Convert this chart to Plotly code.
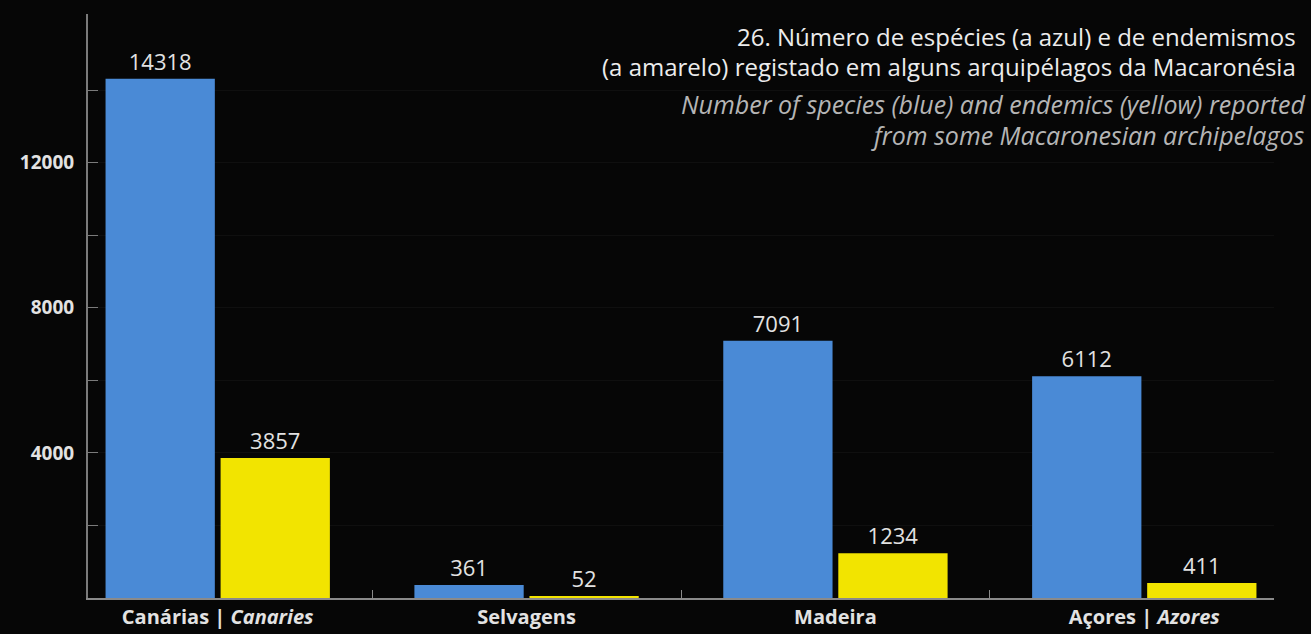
import plotly.graph_objects as go

categories = ["Canárias | <i>Canaries</i>", "Selvagens", "Madeira", "Açores | <i>Azores</i>"]
species = [14318, 361, 7091, 6112]
endemics = [3857, 52, 1234, 411]
ytick_vals = [2000, 4000, 6000, 8000, 10000, 12000, 14000]
ytick_text = ["", "4000", "", "8000", "", "12000", ""]
title_lines = ["26. Número de espécies (a azul) e de endemismos",
               "(a amarelo) registado em alguns arquipélagos da Macaronésia"]
subtitle_lines = ["Number of species (blue) and endemics (yellow) reported",
                  "from some Macaronesian archipelagos"]

BLUE = "#4a8ad6"
YELLOW = "#f2e400"
TXT = "#e2e2e2"
FONT = "Open Sans, sans-serif"

fig = go.Figure()
for vals, col in ((species, BLUE), (endemics, YELLOW)):
    fig.add_trace(go.Bar(x=categories, y=vals, marker=dict(color=col, line=dict(width=0)),
                         text=[str(v) for v in vals], textposition="outside",
                         textfont=dict(color=TXT, size=22, family=FONT), cliponaxis=False))

fig.update_layout(
    width=1311, height=634,
    margin=dict(l=88, r=37, t=14, b=36),
    paper_bgcolor="#060606", plot_bgcolor="#060606",
    barmode="group", bargap=0.255, bargroupgap=0.05,
    showlegend=False,
    font=dict(family=FONT, color=TXT),
)
fig.update_xaxes(
    type="category", range=[-0.42, 3.42], automargin=False,
    showline=True, linecolor="#8a8a8a", linewidth=2,
    ticks="inside", tickson="boundaries", ticklen=8, tickcolor="#8a8a8a", tickwidth=1,
    showgrid=False, zeroline=False,
    tickfont=dict(size=20, color=TXT, family=FONT, weight="bold"),
)
fig.update_yaxes(
    range=[0, 16100], automargin=False,
    showline=True, linecolor="#7a7a7a", linewidth=2,
    tickvals=ytick_vals, ticktext=ytick_text,
    ticks="inside", ticklen=10, tickcolor="#7a7a7a", tickwidth=1,
    showgrid=True, gridcolor="#0f0f0f", gridwidth=1, zeroline=False,
    ticklabelstandoff=8,
    tickfont=dict(size=19, color=TXT, family=FONT, weight="bold"),
)

for txt, ypx in zip(title_lines, [36, 66]):
    fig.add_annotation(xref="paper", yref="paper", x=(1298 - 88) / 1186, y=1 - (ypx - 14) / 584,
                       xanchor="right", yanchor="middle", showarrow=False, text=txt,
                       font=dict(size=24, color="#ececec", family=FONT))
for txt, ypx in zip(subtitle_lines, [104, 135]):
    fig.add_annotation(xref="paper", yref="paper", x=(1307 - 88) / 1186, y=1 - (ypx - 14) / 584,
                       xanchor="right", yanchor="middle", showarrow=False, text="<i>" + txt + "</i>",
                       font=dict(size=25, color="#b5b5b5", family=FONT))

fig.write_html("out.html")
